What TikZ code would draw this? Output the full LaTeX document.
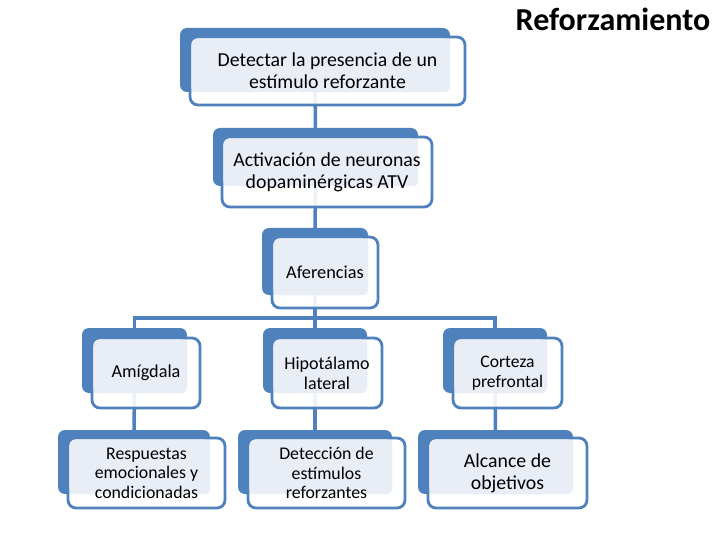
\documentclass[tikz,border=0pt]{standalone}
\usepackage{fontspec}
\setmainfont{Carlito}
\usetikzlibrary{fit,calc}
\pgfdeclarelayer{background}
\pgfsetlayers{background,main}
\definecolor{sblue}{HTML}{4F81BD}
\definecolor{slight}{HTML}{E9EDF5}
\tikzset{
  backbox/.style={fill=sblue, draw=none, rounded corners=7pt, inner sep=0pt},
  frontbox/.style={fill=white, fill opacity=0.9, draw=sblue, draw opacity=1, line width=2.8pt, rounded corners=8pt, inner sep=0pt},
  lightfill/.style={fill=slight, rounded corners=6pt},
  txt/.style={align=center, text=black, inner sep=0pt},
  conn/.style={draw=sblue, line width=3.5pt},
}
\newcommand\smartbox[5]{%
  \node[backbox, fit={#2}] (#1b) {};
  \node[frontbox, fit={#3}] (#1) {};
  \fill[lightfill] ([xshift=2.8pt,yshift=-2.8pt]#1.north west) rectangle (#1b.south east);
  \node[txt, #5] (#1t) at (#1.center) {#4};
}
\begin{document}
\begin{tikzpicture}[x=1pt,y=-1pt]
\useasboundingbox (0,0) rectangle (720,540);
\node[txt, font=\fontsize{32}{36}\selectfont\bfseries] (title) at (613,19) {Reforzamiento};

\smartbox{n1}{(180,28) (450,92)}{(190,37) (465,105)}{Detectar la presencia de un\\estímulo reforzante}{font=\fontsize{19.8}{22}\selectfont}
\smartbox{n2}{(213,128) (418,186)}{(222,137) (432,207)}{Activación de neuronas\\dopaminérgicas ATV}{font=\fontsize{19.8}{22}\selectfont}
\smartbox{n3}{(262,228) (368,295)}{(272,237) (378,308)}{Aferencias}{font=\fontsize{18.3}{20}\selectfont}

\smartbox{am}{(82,328) (187,393)}{(92,338) (200,408)}{Amígdala}{font=\fontsize{18.2}{20}\selectfont}
\smartbox{hi}{(263,328) (367,393)}{(272,338) (382,408)}{Hipotálamo\\lateral}{font=\fontsize{18}{20}\selectfont}
\smartbox{co}{(443,328) (547,393)}{(453,338) (562,408)}{Corteza\\prefrontal}{font=\fontsize{17.6}{20}\selectfont}

\smartbox{re}{(58,430) (210,494)}{(68,438) (225,508)}{Respuestas\\emocionales y\\condicionadas}{font=\fontsize{17.8}{19.5}\selectfont}
\smartbox{de}{(238,430) (392,494)}{(248,438) (405,508)}{Detección de\\estímulos\\reforzantes}{font=\fontsize{17.8}{19.5}\selectfont}
\smartbox{al}{(418,430) (573,494)}{(428,438) (587,508)}{Alcance de\\objetivos}{font=\fontsize{19.8}{22}\selectfont}

\coordinate (bar) at (315,318);
\begin{pgfonlayer}{background}
  \draw[conn] (n1b.center) -- (n2b.center);
  \draw[conn] (n2b.center) -- (n3b.center);
  \draw[conn] (n3b.center) -- (bar);
  \draw[conn] (amb.center) |- (bar) -| (cob.center);
  \draw[conn] (bar) -- (hib.center);
  \draw[conn] (amb.center) -- (reb.center);
  \draw[conn] (hib.center) -- (deb.center);
  \draw[conn] (cob.center) -- (alb.center);
\end{pgfonlayer}
\end{tikzpicture}
\end{document}
